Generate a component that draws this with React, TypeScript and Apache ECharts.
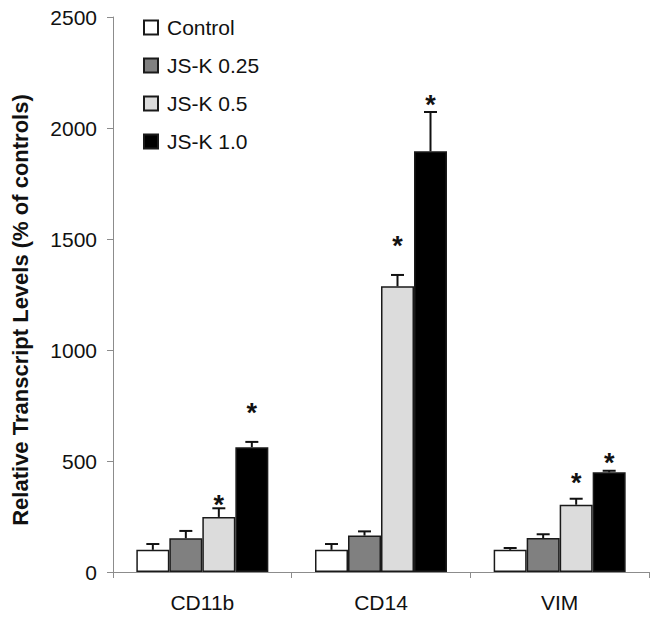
import React, { useEffect, useRef } from "react";
import * as echarts from "echarts";

const categories = ["CD11b", "CD14", "VIM"];
const seriesNames = ["Control", "JS-K 0.25", "JS-K 0.5", "JS-K 1.0"];
const seriesColors = ["#ffffff", "#808080", "#dcdcdc", "#000000"];

const controlValues = [100, 100, 100];
const controlErrors = [26, 26, 8];
const jsk025Values = [152, 164, 153];
const jsk025Errors = [33, 19, 17];
const jsk05Values = [248, 1287, 303];
const jsk05Errors = [39, 51, 27];
const jsk10Values = [562, 1895, 449];
const jsk10Errors = [24, 177, 7];

// value-axis position of the significance asterisks
const jsk05Stars = [331, 1494, 426];
const jsk10Stars = [743, 2132, 516];

const yMin = 0;
const yMax = 2500;
const yInterval = 500;

const allValues = [controlValues, jsk025Values, jsk05Values, jsk10Values];
const allErrors = [controlErrors, jsk025Errors, jsk05Errors, jsk10Errors];
const allStars: (number[] | null)[] = [null, null, jsk05Stars, jsk10Stars];

const BAR_W = 33;
const FONT = "'Liberation Sans', Arial, sans-serif";

export default function App() {
  const ref = useRef<HTMLDivElement>(null);

  useEffect(() => {
    if (!ref.current) return;
    const chart = echarts.init(ref.current, null, { renderer: "svg" });

    const errData: number[][] = [];
    allValues.forEach((vals, s) => {
      vals.forEach((v, c) => errData.push([c, v, allErrors[s][c], s]));
    });
    const starData: number[][] = [];
    allStars.forEach((stars, s) => {
      if (!stars) return;
      stars.forEach((v, c) => starData.push([c, v, s]));
    });

    const barSeries = seriesNames.map((name, s) => ({
      name,
      type: "bar",
      data: allValues[s],
      barWidth: BAR_W,
      barGap: "0%",
      itemStyle: {
        color: seriesColors[s],
        borderColor: "#1a1a1a",
        borderWidth: 1.5,
      },
    }));

    chart.setOption({
      animation: false,
      backgroundColor: "#ffffff",
      textStyle: { fontFamily: FONT },
      grid: { left: 113, right: 12, top: 17, bottom: 48 },
      legend: {
        orient: "vertical",
        left: 143,
        top: 17,
        padding: 0,
        itemWidth: 14,
        itemHeight: 14,
        itemGap: 17,
        icon: "rect",
        data: seriesNames,
        textStyle: {
          fontSize: 21,
          color: "#111",
          fontFamily: FONT,
          padding: [0, 0, 0, 4],
        },
      },
      xAxis: {
        type: "category",
        data: categories,
        axisLine: { lineStyle: { color: "#8c8c8c", width: 1 } },
        axisTick: { show: true, length: 6, lineStyle: { color: "#8c8c8c" } },
        axisLabel: {
          fontSize: 21,
          color: "#111",
          margin: 20,
          fontFamily: FONT,
        },
      },
      yAxis: {
        type: "value",
        min: yMin,
        max: yMax,
        interval: yInterval,
        axisLine: { show: true, lineStyle: { color: "#8c8c8c", width: 1 } },
        axisTick: { show: true, length: 6, lineStyle: { color: "#8c8c8c" } },
        splitLine: { show: false },
        axisLabel: {
          fontSize: 21,
          color: "#111",
          margin: 16,
          fontFamily: FONT,
          formatter: (v: number) => String(v),
        },
      },
      graphic: [
        {
          type: "text",
          x: 20,
          y: 310,
          rotation: Math.PI / 2,
          style: {
            text: "Relative Transcript Levels (% of controls)",
            fontSize: 22,
            fontWeight: "bold",
            fontFamily: FONT,
            fill: "#111",
            textAlign: "center",
            textVerticalAlign: "middle",
          },
        },
      ],
      series: [
        ...barSeries,
        {
          type: "custom",
          name: "errors",
          z: 5,
          silent: true,
          data: errData,
          encode: { x: 0, y: 1 },
          renderItem: (params: any, api: any) => {
            const c = api.value(0);
            const v = api.value(1);
            const e = api.value(2);
            const s = api.value(3);
            const base = api.coord([c, v]);
            const top = api.coord([c, v + e]);
            const x = base[0] + (s - 1.5) * BAR_W;
            const style = { stroke: "#111", lineWidth: 2 };
            return {
              type: "group",
              children: [
                { type: "line", shape: { x1: x, y1: base[1], x2: x, y2: top[1] }, style },
                { type: "line", shape: { x1: x - 6.5, y1: top[1], x2: x + 6.5, y2: top[1] }, style },
              ],
            };
          },
        },
        {
          type: "custom",
          name: "stars",
          z: 6,
          silent: true,
          data: starData,
          encode: { x: 0, y: 1 },
          renderItem: (params: any, api: any) => {
            const c = api.value(0);
            const v = api.value(1);
            const s = api.value(2);
            const p = api.coord([c, v]);
            const x = p[0] + (s - 1.5) * BAR_W;
            return {
              type: "text",
              x,
              y: p[1] + 6,
              style: {
                text: "*",
                fontSize: 27,
                fontWeight: "bold",
                fontFamily: FONT,
                fill: "#111",
                textAlign: "center",
                textVerticalAlign: "middle",
              },
            };
          },
        },
      ],
    });

    return () => chart.dispose();
  }, []);

  return (
    <div
      ref={ref}
      style={{ width: 661, height: 620, position: "absolute", left: 0, top: 0 }}
    />
  );
}
